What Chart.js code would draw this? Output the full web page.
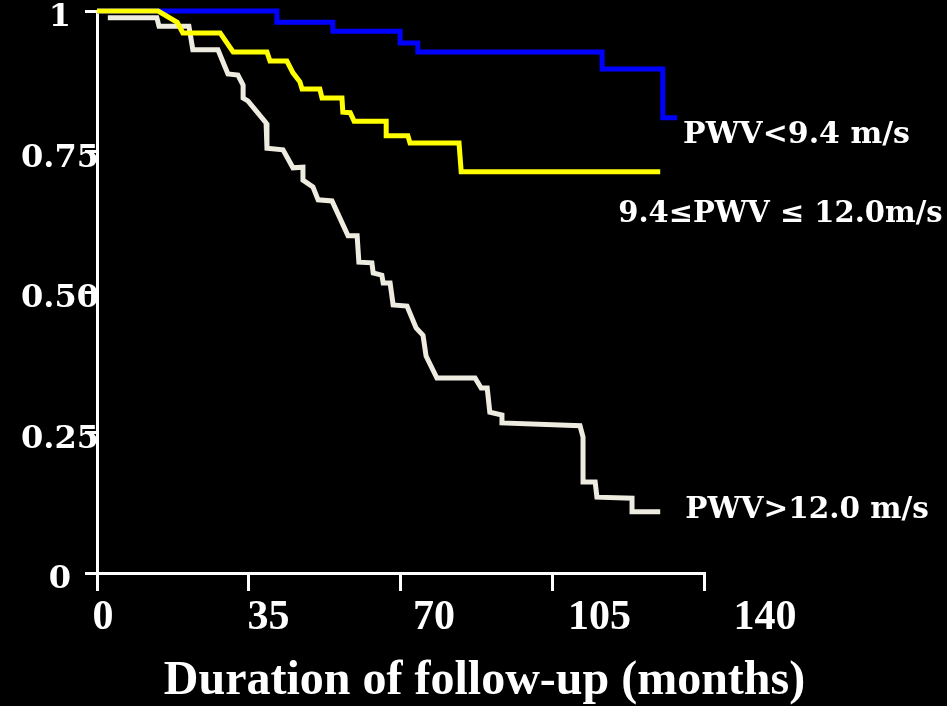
<!DOCTYPE html>
<html>
<head>
<meta charset="utf-8">
<script src="https://cdn.jsdelivr.net/npm/chart.js@4/dist/chart.umd.min.js"></script>
<style>
  html, body { margin: 0; padding: 0; background: #000; }
  #wrap { width: 947px; height: 706px; }
</style>
</head>
<body>
<div id="wrap"><canvas id="km" width="947" height="706"></canvas></div>
<script>
// Kaplan-Meier survival by pulse wave velocity group (vertices of each curve)
const LOW_MONTHS = [0, 41.5, 41.5, 54.4, 54.4, 69.9, 69.9, 74.0, 74.0, 116.5, 116.5, 130.5, 130.5, 133.8];
const LOW_SURV   = [1.000, 1.000, 0.980, 0.980, 0.964, 0.964, 0.943, 0.943, 0.927, 0.927, 0.897, 0.897, 0.810, 0.810];

const MID_MONTHS = [0, 14.1, 18.5, 19.8, 28.4, 31.4, 39.2, 39.9, 43.8, 45.2, 46.8, 47.3, 51.4, 51.9, 56.5, 56.7, 58.4, 59.3, 66.7, 66.7, 71.7, 72.2, 83.5, 84.0, 129.9];
const MID_SURV   = [1.000, 1.000, 0.980, 0.961, 0.961, 0.927, 0.927, 0.911, 0.911, 0.890, 0.874, 0.861, 0.861, 0.845, 0.845, 0.820, 0.819, 0.804, 0.804, 0.778, 0.778, 0.765, 0.765, 0.714, 0.714];

const HIGH_MONTHS = [2.5, 13.8, 14.3, 21.2, 22.1, 27.9, 30.2, 32.5, 33.7, 33.7, 34.8, 39.0, 39.2, 42.9, 45.2, 47.5, 47.5, 49.8, 51.0, 54.2, 57.9, 60.0, 60.4, 63.4, 63.7, 65.7, 66.0, 67.6, 68.3, 71.5, 73.6, 75.2, 75.9, 78.4, 87.2, 88.6, 90.0, 90.6, 93.4, 93.4, 111.4, 112.1, 112.1, 114.9, 115.3, 123.4, 123.4, 129.9];
const HIGH_SURV   = [0.988, 0.988, 0.973, 0.973, 0.931, 0.931, 0.888, 0.886, 0.868, 0.845, 0.840, 0.801, 0.756, 0.753, 0.721, 0.722, 0.699, 0.687, 0.664, 0.662, 0.600, 0.600, 0.553, 0.552, 0.534, 0.530, 0.516, 0.516, 0.477, 0.475, 0.436, 0.423, 0.386, 0.347, 0.347, 0.329, 0.329, 0.286, 0.281, 0.267, 0.262, 0.242, 0.162, 0.162, 0.135, 0.133, 0.109, 0.109];

const SERIES_NAMES = ['PWV<9.4 m/s', '9.4\u2264PWV \u2264 12.0m/s', 'PWV>12.0 m/s'];

const X_TICKS = [0, 35, 70, 105, 140];
const X_TICK_LABELS = ['0', '35', '70', '105', '140'];
const Y_TICK_LABELS = ['0', '0.25', '0.50', '0.75', '1'];
const X_TITLE = 'Duration of follow-up (months)';

// ---- styling ----
const WHITE = '#ffffff';
const Y_FONT = { family: '"DejaVu Serif", serif', size: 32, weight: 'bold' };
const X_FONT = { family: '"Liberation Serif", serif', size: 42, weight: 'bold' };
const TITLE_FONT = { family: '"Liberation Serif", serif', size: 48, weight: 'bold', lineHeight: 1.025 };
const NAME_FONT_SIZES = [30, 29, 29.5];
const NAME_FAMILY = '"DejaVu Serif", serif';
const Y_TICK_LEN = 12;
const Y_LABEL_CENTER = 60;
// label position relative to the last vertex of each curve (pixels)
const NAME_OFFSETS = [[6, 25], [-42, 50], [25, 6]];
// range of the scale that carries the month labels
const X_LABEL_MIN = -1.27, X_LABEL_MAX = 127.1;

const toPoints = (xs, ys) => xs.map((m, i) => ({ x: m, y: ys[i] }));

// centre the y tick labels on a common vertical line
const measureCtx = document.createElement('canvas').getContext('2d');
measureCtx.font = `bold ${Y_FONT.size}px ${Y_FONT.family}`;
const widestY = Math.max(...Y_TICK_LABELS.map(t => measureCtx.measureText(t).width));
const yPad = 97 - Y_TICK_LEN - Y_LABEL_CENTER - widestY / 2;

const background = {
  id: 'background',
  beforeDraw(chart) {
    const c = chart.ctx;
    c.save();
    c.fillStyle = '#000';
    c.fillRect(0, 0, chart.width, chart.height);
    c.restore();
  }
};

const seriesNames = {
  id: 'seriesNames',
  afterDatasetsDraw(chart) {
    const c = chart.ctx;
    const xs = chart.scales.x, ys = chart.scales.y;
    c.save();
    c.fillStyle = WHITE;
    c.textAlign = 'left';
    c.textBaseline = 'alphabetic';
    chart.data.datasets.forEach(ds => {
      const k = ds.nameIndex;
      const last = ds.data[ds.data.length - 1];
      const px = xs.getPixelForValue(last.x) + NAME_OFFSETS[k][0];
      const py = ys.getPixelForValue(last.y) + NAME_OFFSETS[k][1];
      c.font = `bold ${NAME_FONT_SIZES[k]}px ${NAME_FAMILY}`;
      c.fillText(SERIES_NAMES[k], px, py);
    });
    c.restore();
  }
};

new Chart(document.getElementById('km'), {
  type: 'line',
  data: {
    datasets: [
      { data: toPoints(MID_MONTHS, MID_SURV), borderColor: '#ffff00', nameIndex: 1 },
      { data: toPoints(LOW_MONTHS, LOW_SURV), borderColor: '#0000ff', nameIndex: 0 },
      { data: toPoints(HIGH_MONTHS, HIGH_SURV), borderColor: '#eeebe1', nameIndex: 2 }
    ].map(d => Object.assign({
      borderWidth: 5, pointRadius: 0, tension: 0, fill: false, clip: false,
      borderJoinStyle: 'miter'
    }, d))
  },
  options: {
    responsive: false,
    animation: false,
    events: [],
    layout: { padding: { left: 22, top: 11, right: 0, bottom: 0 } },
    plugins: {
      legend: { display: false },
      tooltip: { enabled: false },
      title: {
        display: true,
        position: 'bottom',
        text: X_TITLE,
        color: WHITE,
        font: TITLE_FONT,
        padding: { top: 0, bottom: 0 }
      }
    },
    scales: {
      x: {
        type: 'linear',
        min: 0, max: 140,
        afterBuildTicks(s) { s.ticks = X_TICKS.map(v => ({ value: v })); },
        ticks: { display: false },
        grid: { drawOnChartArea: false, color: WHITE, lineWidth: 3, tickLength: 18 },
        border: { color: WHITE, width: 3 },
        afterFit(s) { s.height = 18; s.paddingLeft = 0; s.paddingRight = 0; }
      },
      xLabels: {
        type: 'linear',
        axis: 'x',
        position: 'bottom',
        min: X_LABEL_MIN, max: X_LABEL_MAX,
        afterBuildTicks(s) { s.ticks = X_TICKS.map(v => ({ value: v })); },
        ticks: {
          color: WHITE, font: X_FONT, padding: 2.3,
          autoSkip: false, maxRotation: 0, minRotation: 0,
          callback: (v, i) => X_TICK_LABELS[i]
        },
        grid: { display: false, drawTicks: false },
        border: { display: false },
        afterFit(s) { s.height = 65.78; s.paddingLeft = 0; s.paddingRight = 0; }
      },
      y: {
        type: 'linear',
        min: 0, max: 1,
        ticks: {
          stepSize: 0.25,
          color: WHITE, font: Y_FONT,
          crossAlign: 'center',
          padding: yPad,
          labelOffset: 7,
          callback: (v, i) => Y_TICK_LABELS[i]
        },
        grid: { drawOnChartArea: false, color: WHITE, lineWidth: 3, tickLength: Y_TICK_LEN },
        border: { color: WHITE, width: 3 },
        afterFit(s) { s.width = 75; s.paddingTop = 0; s.paddingBottom = 0; }
      },
      yRight: {
        type: 'linear',
        axis: 'y',
        position: 'right',
        ticks: { display: false },
        grid: { display: false, drawTicks: false },
        border: { display: false },
        afterFit(s) { s.width = 243; s.paddingTop = 0; s.paddingBottom = 0; }
      }
    }
  },
  plugins: [background, seriesNames]
});
</script>
</body>
</html>
